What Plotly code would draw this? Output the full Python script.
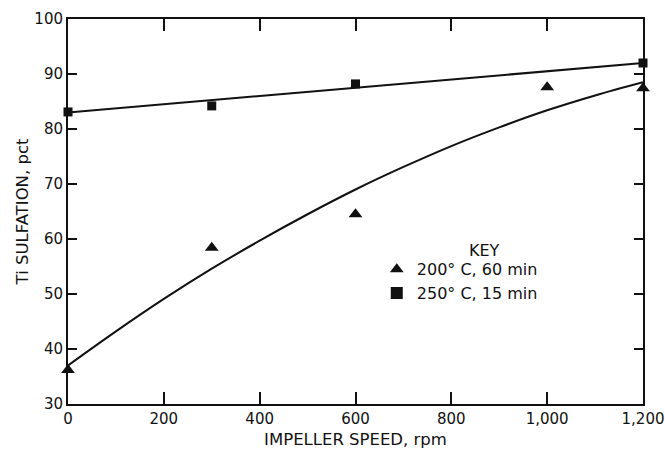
import plotly.graph_objects as go

# Impeller speed (rpm) and Ti sulfation (pct) measurements
speed_200 = [0, 300, 600, 1000, 1200]
sulf_200 = [36.2, 58.4, 64.5, 87.6, 87.4]

speed_250 = [0, 300, 600, 1200]
sulf_250 = [83.1, 84.2, 88.2, 92.0]

# Smoothed curves drawn through each series
curve_speed_200 = [0, 100, 200, 300, 400, 500, 600, 700, 800, 900, 1000, 1100, 1200]
curve_sulf_200 = [37.0, 43.2, 49.1, 54.6, 59.7, 64.5, 69.0, 73.1, 76.9, 80.3, 83.4, 86.1, 88.5]

curve_speed_250 = [0, 1200]
curve_sulf_250 = [83.0, 92.0]

x_ticks = [0, 200, 400, 600, 800, 1000, 1200]
x_tick_labels = ["0", "200", "400", "600", "800", "1,000", "1,200"]
y_ticks = [30, 40, 50, 60, 70, 80, 90, 100]

FONT = "DejaVu Sans, Liberation Sans, sans-serif"
INK = "#111111"

fig = go.Figure()

fig.add_trace(go.Scatter(
    x=curve_speed_200, y=curve_sulf_200, mode="lines",
    line=dict(color=INK, width=2, shape="spline"), showlegend=False,
    hoverinfo="skip", cliponaxis=False,
))
fig.add_trace(go.Scatter(
    x=curve_speed_250, y=curve_sulf_250, mode="lines",
    line=dict(color=INK, width=2), showlegend=False,
    hoverinfo="skip", cliponaxis=False,
))
fig.add_trace(go.Scatter(
    x=speed_200, y=sulf_200, mode="markers", name="200° C, 60 min",
    marker=dict(symbol="triangle-up", size=12, color=INK),
    cliponaxis=False,
))
fig.add_trace(go.Scatter(
    x=speed_250, y=sulf_250, mode="markers", name="250° C, 15 min",
    marker=dict(symbol="square", size=9, color=INK),
    cliponaxis=False,
))

fig.add_annotation(
    text="KEY", x=0.7235, y=0.40, xref="paper", yref="paper",
    xanchor="center", yanchor="middle", showarrow=False,
    font=dict(family=FONT, size=16, color=INK),
)

fig.update_layout(
    template="none",
    width=665, height=449,
    margin=dict(l=68, r=22, t=19, b=45, autoexpand=False),
    paper_bgcolor="white", plot_bgcolor="white",
    font=dict(family=FONT, size=16, color=INK),
    showlegend=True,
    legend=dict(
        x=0.537, y=0.394, xanchor="left", yanchor="top",
        bgcolor="rgba(0,0,0,0)", borderwidth=0,
        font=dict(family=FONT, size=16, color=INK),
        itemsizing="constant", tracegroupgap=0,
    ),
    xaxis=dict(
        range=[0, 1200], tickvals=x_ticks, ticktext=x_tick_labels,
        ticks="inside", ticklen=12, tickwidth=1.5, tickcolor=INK,
        showline=True, linecolor=INK, linewidth=2, mirror="ticks",
        showgrid=False, zeroline=False, automargin=False,
        ticklabeloverflow="allow",
        title=dict(text="IMPELLER SPEED, rpm", standoff=6,
                   font=dict(family=FONT, size=16.5, color=INK)),
        tickfont=dict(family=FONT, size=15, color=INK),
    ),
    yaxis=dict(
        range=[30, 100], tickvals=y_ticks,
        ticks="inside", ticklen=9, tickwidth=1.5, tickcolor=INK,
        showline=True, linecolor=INK, linewidth=2, mirror="ticks",
        showgrid=False, zeroline=False, automargin=False,
        title=dict(text="Ti SULFATION, pct", standoff=2,
                   font=dict(family=FONT, size=16.5, color=INK)),
        tickfont=dict(family=FONT, size=15, color=INK),
    ),
)

fig.write_html("out.html")
